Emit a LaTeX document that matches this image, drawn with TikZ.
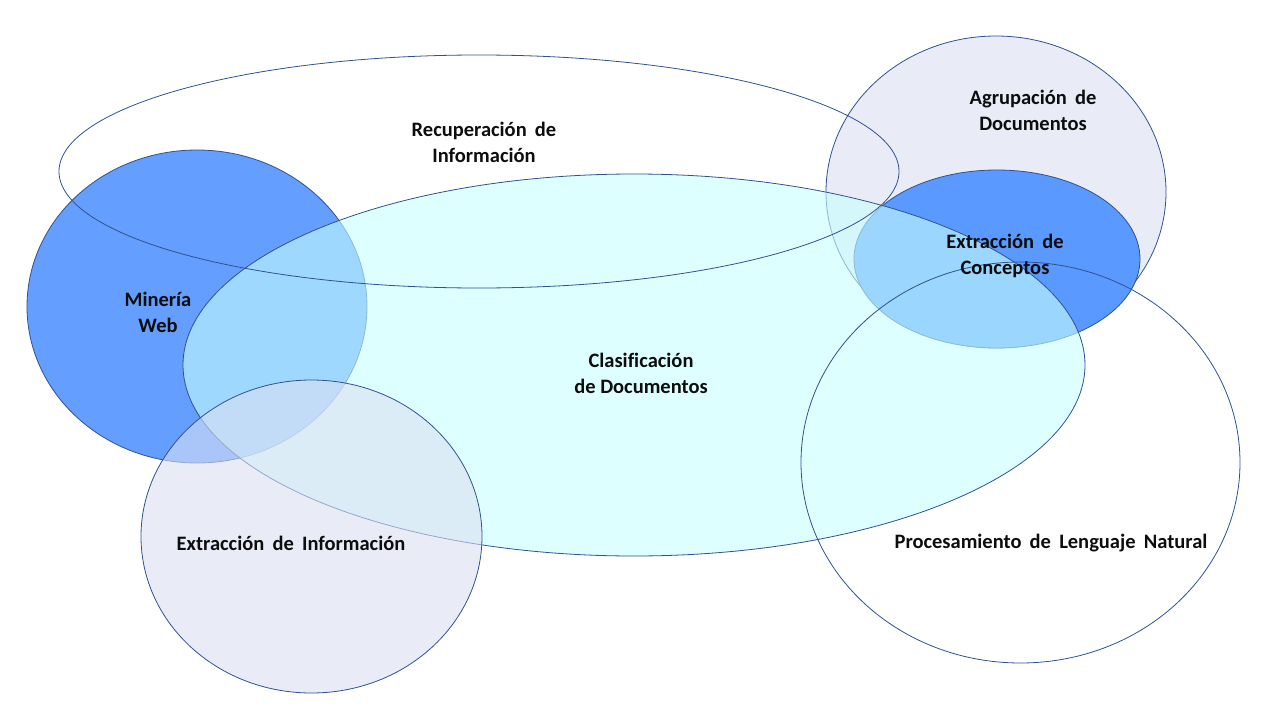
\documentclass[tikz,border=0pt]{standalone}
\usepackage{fontspec}
\setmainfont[Ligatures=NoCommon]{Carlito}
\usetikzlibrary{shapes.geometric}
\definecolor{edgec}{RGB}{47,82,143}
\definecolor{bluem}{RGB}{100,158,255}
\definecolor{bluec}{RGB}{90,153,255}
\definecolor{cyanc}{RGB}{199,255,255}
\definecolor{lav}{RGB}{233,236,247}
\definecolor{lavt}{RGB}{218,223,242}
\definecolor{txt}{RGB}{13,13,13}
\tikzset{
  blob/.style={ellipse, draw=edgec, line width=0.8pt, inner sep=0pt, outer sep=0pt},
  lbl/.style={font=\fontsize{20.5}{26}\selectfont\bfseries, text=txt, align=center, inner sep=0pt}
}
\newcommand{\ws}{\hspace{0.4em}}
\begin{document}
\begin{tikzpicture}[x=1pt,y=-1pt]
\useasboundingbox (0,0) rectangle (1280,720);
% shapes (back to front)
\node[blob, fill=lav, minimum width=340pt, minimum height=312pt] (agr) at (996,192) {};
\node[blob, fill=bluec, minimum width=286pt, minimum height=178pt] (econ) at (997,259) {};
\node[blob, fill=bluem, minimum width=340pt, minimum height=313pt] (min) at (197,306.5) {};
\node[blob, fill=cyanc, fill opacity=0.6, minimum width=902pt, minimum height=382pt] (clas) at (634,365) {};
\node[blob, minimum width=840pt, minimum height=233pt] (rec) at (479,171.5) {};
\node[blob, fill=lavt, fill opacity=0.6, minimum width=341pt, minimum height=313pt] (einf) at (311.5,536.5) {};
\node[blob, minimum width=439pt, minimum height=401pt] (pln) at (1020.5,462.5) {};
% labels
\node[lbl] (trec) at (484,142.5) {Recuperación\ws de\\Información};
\node[lbl] (tmin) at (158,312) {Minería\\Web};
\node[lbl] (tclas) at (641,373) {Clasificación\\de Documentos};
\node[lbl] (teinf) at (291,543) {Extracción\ws de\ws Información};
\node[lbl] (tagr) at (1033,110) {Agrupación\ws de\\Documentos};
\node[lbl] (tecon) at (1005,256) {Extracción\ws de\\Conceptos};
\node[lbl] (tpln) at (1051,543) {Procesamiento\ws de\ws Lenguaje\ws Natural};
\end{tikzpicture}
\end{document}
